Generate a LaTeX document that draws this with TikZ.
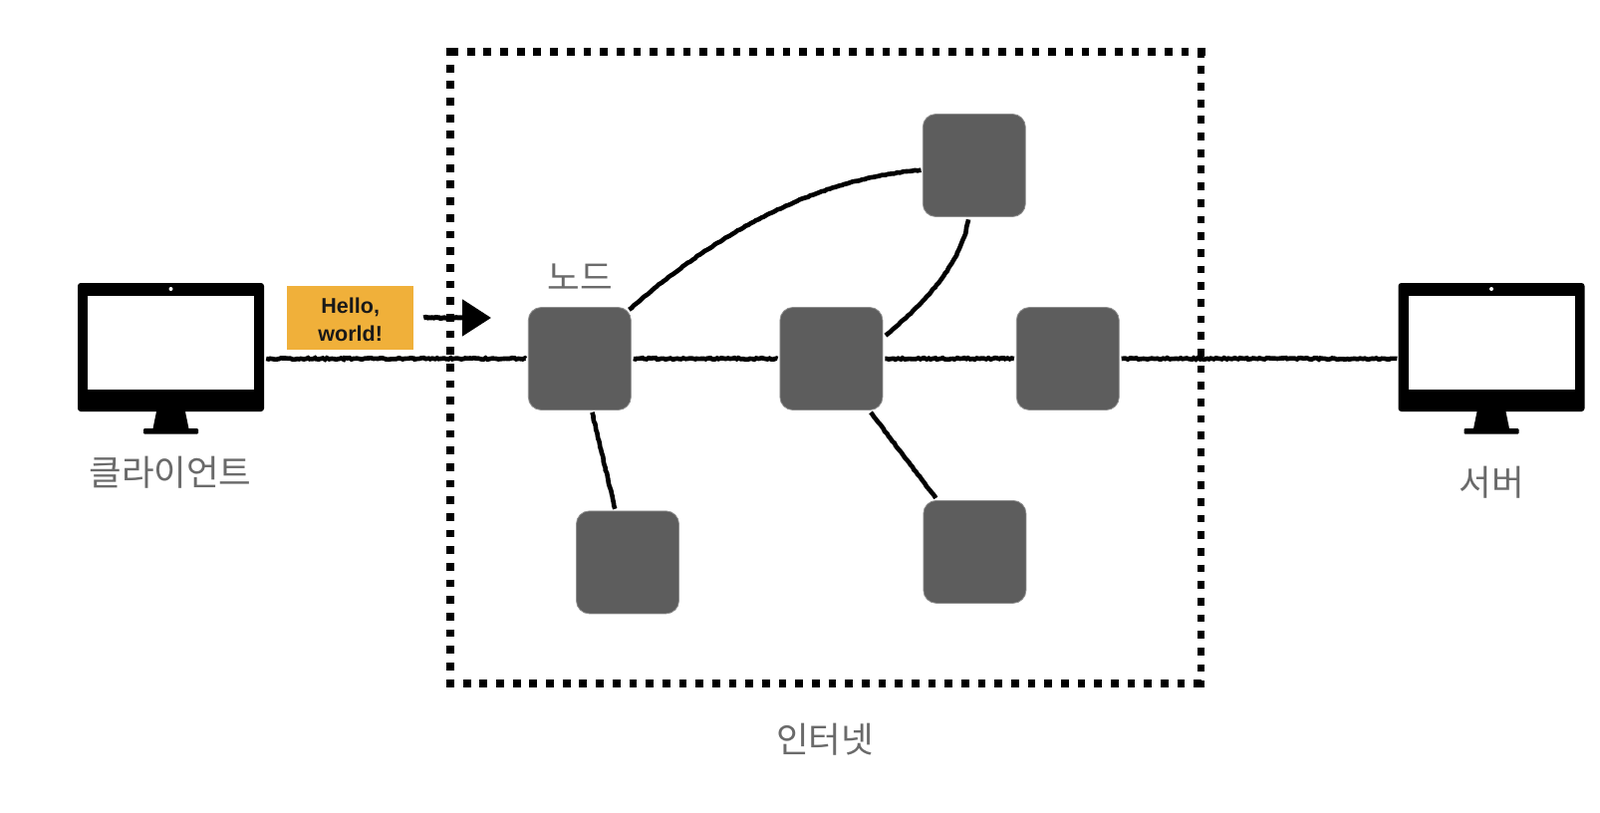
\documentclass[tikz,border=0pt]{standalone}
\usepackage{fontspec}
\setmainfont{Liberation Sans}
\newfontfamily\krfont{Noto Sans CJK KR}
\usetikzlibrary{calc,arrows.meta,decorations.pathmorphing}
\definecolor{nodegray}{HTML}{5D5D5D}
\definecolor{labelgray}{HTML}{6A6A6A}
\definecolor{helloorange}{HTML}{F0B03A}
\tikzset{
  x=1pt,y=-1pt,
  netnode/.style={draw=nodegray!70,line width=0.8pt,fill=nodegray,rounded corners=13pt,minimum width=103pt,minimum height=103pt,inner sep=0pt},
  krlabel/.style={text=labelgray,inner sep=0pt,font=\krfont\fontsize{35.5}{40}\selectfont},
  wire/.style={black,line width=4.6pt,decorate,decoration={random steps,segment length=2.2pt,amplitude=0.8pt}},
  sidewire/.style={black,line width=4.6pt,decorate,decoration={random steps,segment length=3pt,amplitude=0.4pt}},
  dotline/.style={black,line width=7.8pt,dash pattern=on 7.8pt off 8.87pt},
}
\newcommand{\monitor}[2]{%
  \node[fill=black,rounded corners=3pt,minimum width=187pt,minimum height=129pt,inner sep=0pt] (#1) at (#2,348.5) {};
  \node[fill=white,minimum width=167pt,minimum height=94pt,inner sep=0pt] (#1screen) at (#2,343.7) {};
  \node[fill=white,circle,minimum size=4pt,inner sep=0pt] (#1cam) at (#2,290) {};
  \fill[black] ($(#1.south)+(-14.5,0)$) -- ($(#1.south)+(14.5,0)$) -- ($(#1.south)+(18,17)$) -- ($(#1.south)+(-18,17)$) -- cycle;
  \fill[black,rounded corners=1pt] ($(#1.south)+(-27.5,17)$) rectangle ($(#1.south)+(27.5,22.5)$);
}
\begin{document}
\begin{tikzpicture}
\useasboundingbox (0,0) rectangle (1606,816);
\fill[white] (0,0) rectangle (1606,816);

% internet boundary
\node[minimum width=753.3pt,minimum height=633.7pt,inner sep=0pt] (net) at (828.65,368.85) {};
\draw[dotline,dash phase=12.33pt] ($(net.north west)+(-4,0)$) -- ($(net.north east)+(4,0)$);
\draw[dotline,dash phase=16.34pt] ($(net.north west)+(0,-4)$) -- ($(net.south west)+(0,4)$);
\draw[dotline,dash phase=16.34pt] ($(net.south west)+(-4,0)$) -- ($(net.south east)+(4,0)$);
\draw[dotline,dash phase=14.67pt] ($(net.north east)+(0,-4)$) -- ($(net.south east)+(0,4)$);

% monitors
\monitor{client}{171.5}
\monitor{server}{1497}

% network nodes
\node[netnode] (A) at (581.8,360) {};
\node[netnode] (B) at (834.4,360) {};
\node[netnode] (C) at (1071.8,360) {};
\node[netnode] (T) at (977.8,166) {};
\node[netnode] (BL) at (630,564.4) {};
\node[netnode] (BR) at (978.4,553.9) {};

% connectors
\draw[wire] ($(client.east |- A.west)+(2,0)$) -- ($(A.west)+(-2,0)$);
\draw[wire] ($(A.east)+(2,0)$) -- ($(B.west)+(-2,0)$);
\draw[wire] ($(B.east)+(2,0)$) -- ($(C.west)+(-2,0)$);
\draw[wire] ($(C.east)+(2,0)$) -- ($(server.west |- C.east)+(-1,0)$);
\draw[sidewire] ($(A.north east)+(-2.3,2.7)$) .. controls (729,225.4) and (827,178.7) .. ($(T.west)+(-1.7,4.7)$);
\draw[sidewire] ($(B.east)+(2.6,-23.3)$) .. controls (938.7,295.6) and (966.5,256.7) .. ($(T.south)+(-5.8,2.5)$);
\draw[sidewire] ($(A.south)+(12.5,2)$) -- ($(BL.north)+(-12.7,-1.7)$);
\draw[sidewire] ($(B.south)+(39.6,2)$) -- ($(BR.north)+(-39.1,-2)$);

% message
\node[fill=helloorange,minimum width=126.7pt,minimum height=63.7pt,inner sep=0pt,align=center,text=black!90,font=\bfseries\fontsize{21.5}{28}\selectfont] (hello) at (351.7,318.9) {\rule{0pt}{20pt}Hello,\\world!};
\coordinate (tip) at (493,319);
\draw[black,line width=5pt,decorate,decoration={random steps,segment length=2.5pt,amplitude=0.8pt,post=lineto,post length=32pt},-{Triangle[length=29pt,width=36pt]}] ($(hello.east)+(10,0)$) -- (tip);

% labels
\node[krlabel] (lclient) at (171,474) {클라이언트};
\node[krlabel] (lserver) at (1497,484) {서버};
\node[krlabel] (lnode) at (582,278) {노드};
\node[krlabel] (lnet) at (828,742) {인터넷};
\end{tikzpicture}
\end{document}
